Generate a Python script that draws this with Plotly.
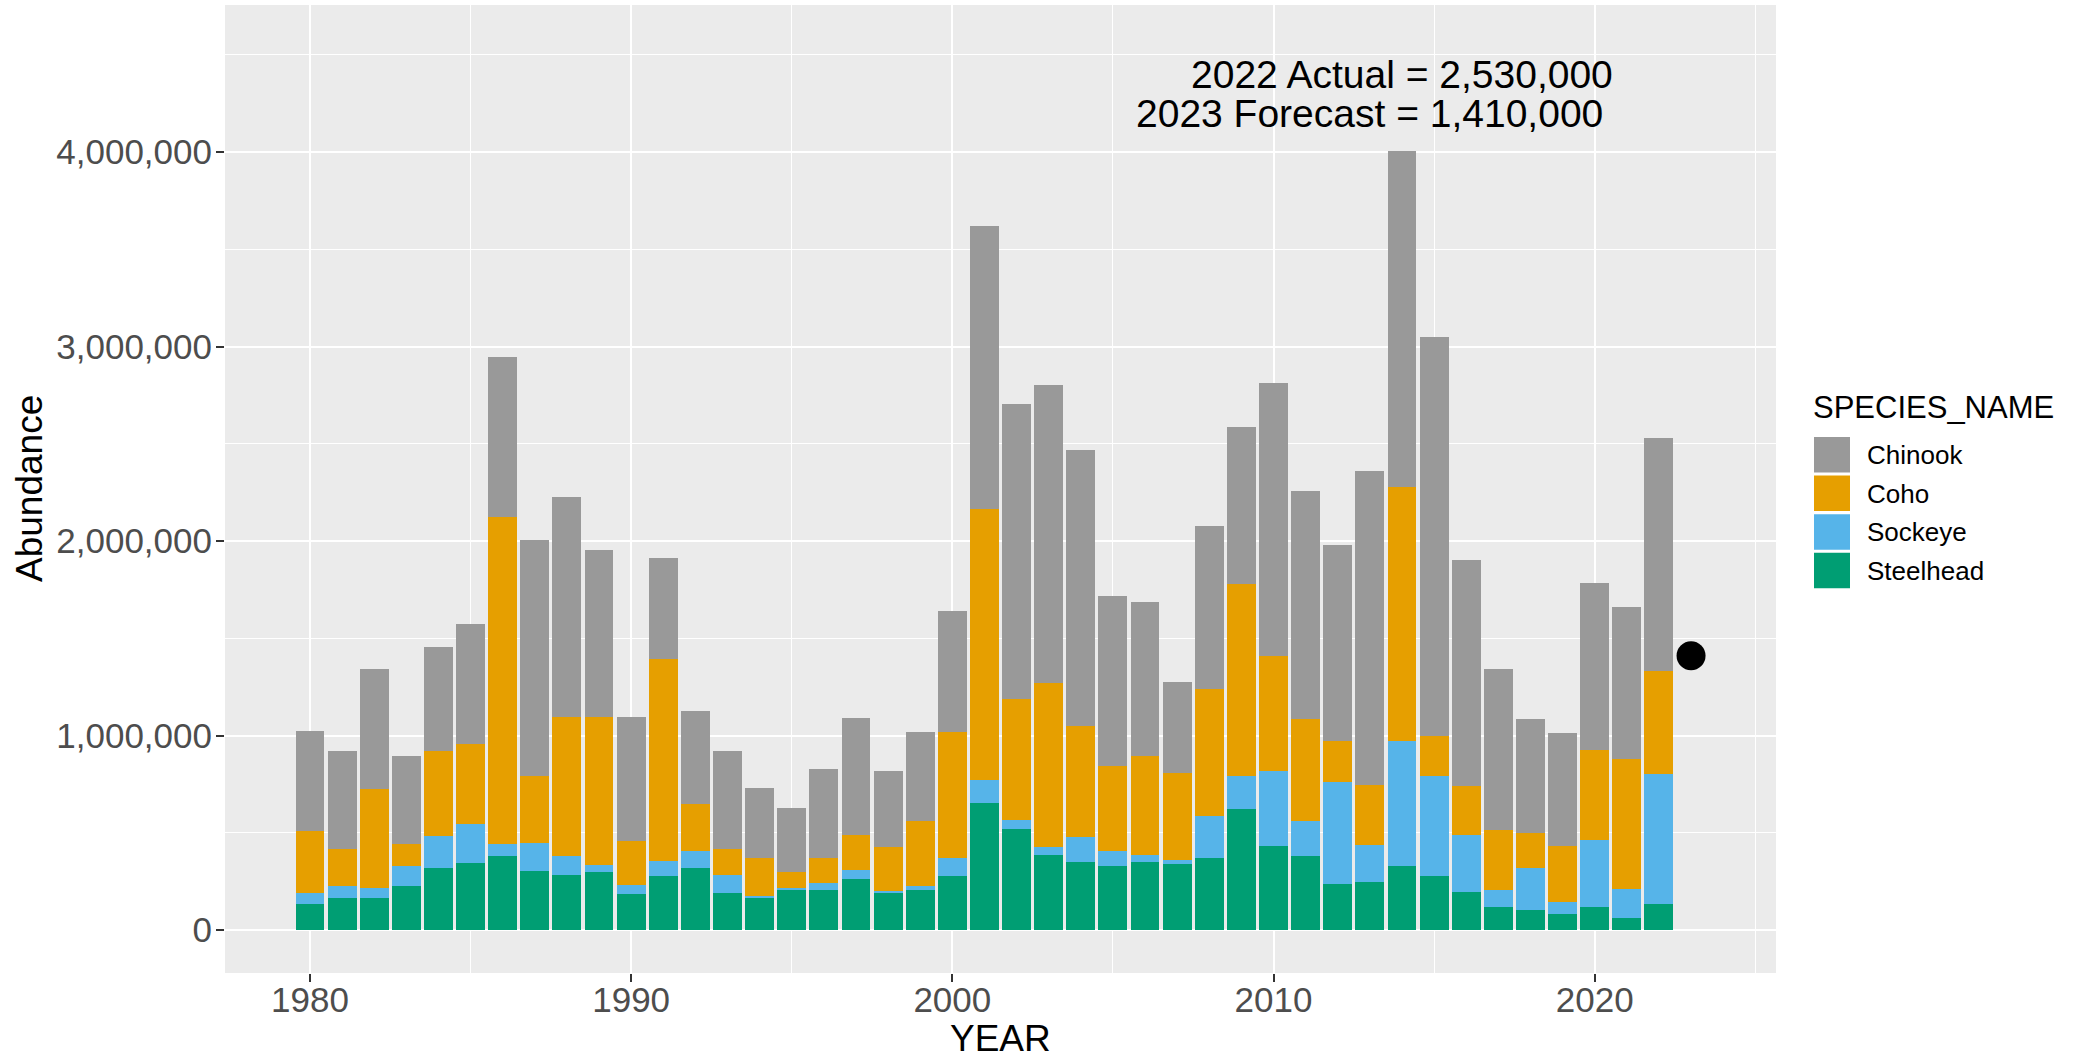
import plotly.graph_objects as go

# ---------------- data (thousands of fish) ----------------
years = list(range(1980, 2023))
species = ["Chinook", "Coho", "Sockeye", "Steelhead"]
colors = {"Chinook": "#999999", "Coho": "#E69F00", "Sockeye": "#56B4E9", "Steelhead": "#009E73"}

steelhead = [132, 166, 166, 226, 321, 347, 381, 304, 285, 296,
             183, 279, 321, 191, 166, 210, 207, 260, 192, 207,
             277, 655, 517, 388, 348, 330, 348, 338, 370, 620,
             433, 380, 235, 245, 328, 279, 197, 121, 105, 80,
             121, 61, 132]
sockeye = [59, 60, 51, 102, 160, 196, 59, 145, 94, 38,
           49, 74, 83, 92, 8, 8, 34, 47, 7, 17,
           91, 119, 50, 38, 128, 78, 38, 22, 215, 171,
           386, 180, 525, 192, 643, 512, 292, 84, 212, 66,
           344, 152, 671]
coho = [318, 189, 506, 112, 440, 412, 1683, 345, 715, 760,
        225, 1043, 243, 132, 198, 82, 128, 184, 227, 335,
        648, 1393, 620, 842, 575, 436, 509, 449, 655, 986,
        590, 525, 210, 310, 1305, 207, 253, 311, 182, 286,
        459, 665, 531]
chinook = [517, 506, 620, 456, 534, 619, 826, 1210, 1134, 859,
           637, 515, 481, 506, 360, 329, 460, 600, 393, 457,
           625, 1452, 1520, 1537, 1416, 875, 793, 464, 839, 811,
           1404, 1171, 1012, 1613, 1729, 2051, 1161, 828, 584, 582,
           859, 785, 1198]

series = {"Steelhead": steelhead, "Sockeye": sockeye, "Coho": coho, "Chinook": chinook}

forecast_year = [2023]
forecast_value = [1410000]

annot_text = ["2022 Actual = 2,530,000", "2023 Forecast = 1,410,000"]
annot_x = [2014, 2013]
annot_y = [4400000, 4200000]

x_ticks = [1980, 1990, 2000, 2010, 2020]
y_ticks = [0, 1000000, 2000000, 3000000, 4000000]

# ---------------- figure ----------------
FONT = "Liberation Sans, Arial, sans-serif"
W, H = 2088, 1059
L, R, T, B = 225, 1776, 5, 973


def px(x):
    return (x - L) / (R - L)


def py(y):
    return (B - y) / (B - T)


fig = go.Figure()
for sp in ["Steelhead", "Sockeye", "Coho", "Chinook"]:
    fig.add_trace(go.Bar(
        x=years, y=[v * 1000 for v in series[sp]], name=sp,
        marker=dict(color=colors[sp], line=dict(width=0)),
        width=0.9, showlegend=False,
    ))

fig.add_trace(go.Scatter(
    x=forecast_year, y=forecast_value, mode="markers",
    marker=dict(color="black", size=29), showlegend=False,
))

for t, x, y in zip(annot_text, annot_x, annot_y):
    fig.add_annotation(x=x, y=y, xref="x", yref="y", text=t, showarrow=False,
                       xanchor="center", yanchor="middle",
                       font=dict(family=FONT, size=39, color="black"))

# axis titles
fig.add_annotation(x=px(1000.5), y=py(1038), xref="paper", yref="paper", text="YEAR",
                   showarrow=False, xanchor="center", yanchor="middle",
                   font=dict(family=FONT, size=37, color="black"))
fig.add_annotation(x=px(29), y=py(489), xref="paper", yref="paper", text="Abundance",
                   showarrow=False, xanchor="center", yanchor="middle", textangle=-90,
                   font=dict(family=FONT, size=37, color="black"))

# custom legend (ggplot-style large keys)
fig.add_annotation(x=px(1811), y=py(407), xref="paper", yref="paper", text="SPECIES_NAME",
                   showarrow=False, xanchor="left", yanchor="middle",
                   font=dict(family=FONT, size=31, color="black"))
row_top = 437
for i, sp in enumerate(species):
    y0 = row_top + i * 38.6
    fig.add_shape(type="rect", xref="paper", yref="paper",
                  x0=px(1814), x1=px(1850), y0=py(y0 + 35.5), y1=py(y0),
                  fillcolor=colors[sp], line=dict(width=0))
    fig.add_annotation(x=px(1865), y=py(y0 + 18), xref="paper", yref="paper", text=sp,
                       showarrow=False, xanchor="left", yanchor="middle",
                       font=dict(family=FONT, size=26, color="black"))

fig.update_layout(
    width=W, height=H,
    margin=dict(l=L, r=W - R, t=T, b=H - B, pad=0),
    paper_bgcolor="white", plot_bgcolor="#EBEBEB",
    barmode="stack", bargap=0.1,
    showlegend=False,
    font=dict(family=FONT),
)
fig.update_xaxes(
    range=[1977.355, 2025.645], tickvals=x_ticks, ticktext=[str(v) for v in x_ticks],
    showgrid=True, gridcolor="white", gridwidth=2, zeroline=False,
    ticks="outside", ticklen=8, tickwidth=2, tickcolor="#333333",
    tickfont=dict(family=FONT, size=35, color="#4D4D4D"),
    ticklabelstandoff=-12,
    minor=dict(tick0=1975, dtick=5, showgrid=True, gridcolor="white", gridwidth=1, ticks=""),
    showline=False,
)
fig.update_yaxes(
    range=[-221000, 4757000], tickvals=y_ticks, tickformat=",d",
    showgrid=True, gridcolor="white", gridwidth=2, zeroline=False,
    ticks="outside", ticklen=8, tickwidth=2, tickcolor="#333333",
    tickfont=dict(family=FONT, size=35, color="#4D4D4D"),
    ticklabelstandoff=-3,
    minor=dict(tick0=0, dtick=500000, showgrid=True, gridcolor="white", gridwidth=1, ticks=""),
    showline=False,
)

fig.write_html("out.html", config={"displayModeBar": False},
               post_script="document.body.style.margin='0';document.body.style.overflow='hidden';")
